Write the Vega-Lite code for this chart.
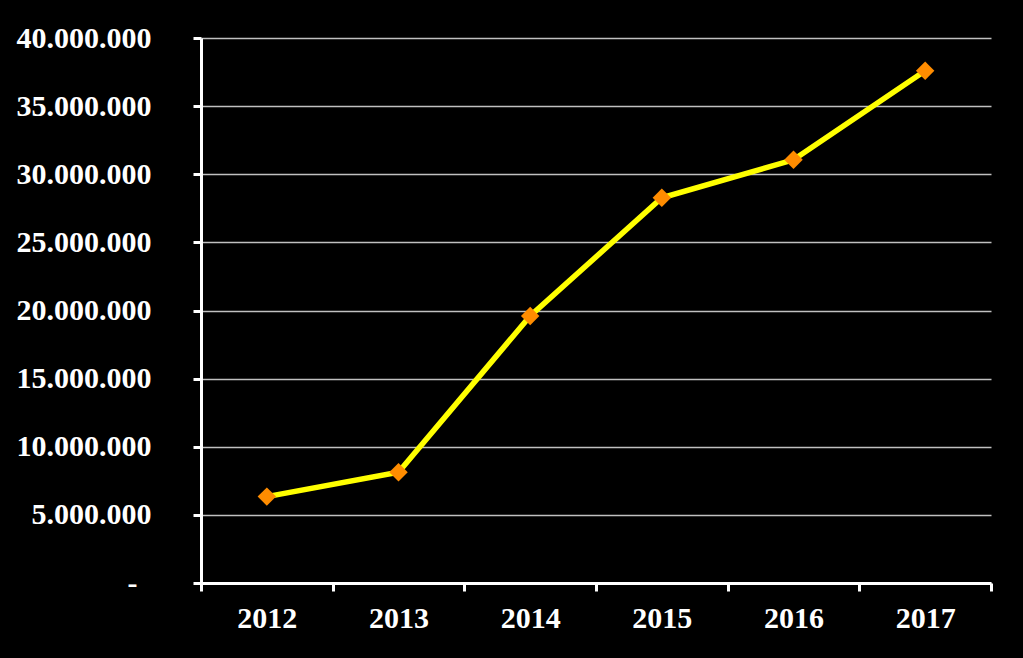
{
  "$schema": "https://vega.github.io/schema/vega-lite/v6.json",
  "autosize": {"type": "none"},
  "padding": {"left": 201, "top": 38, "right": 32, "bottom": 75},
  "width": 790,
  "height": 545,
  "background": "#000000",
  "config": {
    "view": {"stroke": null},
    "locale": {"number": {"decimal": ",", "thousands": ".", "grouping": [3], "currency": ["", ""]}},
    "axis": {"labelFont": "Liberation Serif", "labelFontWeight": "bold", "labelFontSize": 30, "labelColor": "#ffffff", "domainColor": "#ffffff", "tickColor": "#ffffff"}
  },
  "data": {"values": [
    {"year": "2012", "value": 6340000},
    {"year": "2013", "value": 8130000},
    {"year": "2014", "value": 19600000},
    {"year": "2015", "value": 28270000},
    {"year": "2016", "value": 31060000},
    {"year": "2017", "value": 37600000}
  ]},
  "encoding": {
    "x": {"field": "year", "type": "ordinal", "scale": {"type": "band", "paddingInner": 0, "paddingOuter": 0},
      "axis": {"title": null, "labelAngle": 0, "tickBand": "extent", "tickSize": 8, "tickWidth": 3, "domainWidth": 3, "labelPadding": 12, "grid": false}},
    "y": {"field": "value", "type": "quantitative", "scale": {"domain": [0, 40000000], "nice": false},
      "axis": {"title": null, "values": [0, 5000000, 10000000, 15000000, 20000000, 25000000, 30000000, 35000000, 40000000],
        "labelExpr": "datum.value == 0 ? '-' : format(datum.value, ',d')",
        "grid": true, "gridColor": "#c0c0c0", "gridWidth": 1.5, "tickSize": 8, "tickWidth": 3, "domainWidth": 3,
        "labelPadding": {"condition": {"test": "datum.value == 0", "value": 56}, "value": 42}}}
  },
  "layer": [
    {"mark": {"type": "line", "color": "#ffff00", "strokeWidth": 5.5}},
    {"mark": {"type": "point", "shape": "diamond", "filled": true, "color": "#ff8c00", "size": 340, "opacity": 1}}
  ]
}
